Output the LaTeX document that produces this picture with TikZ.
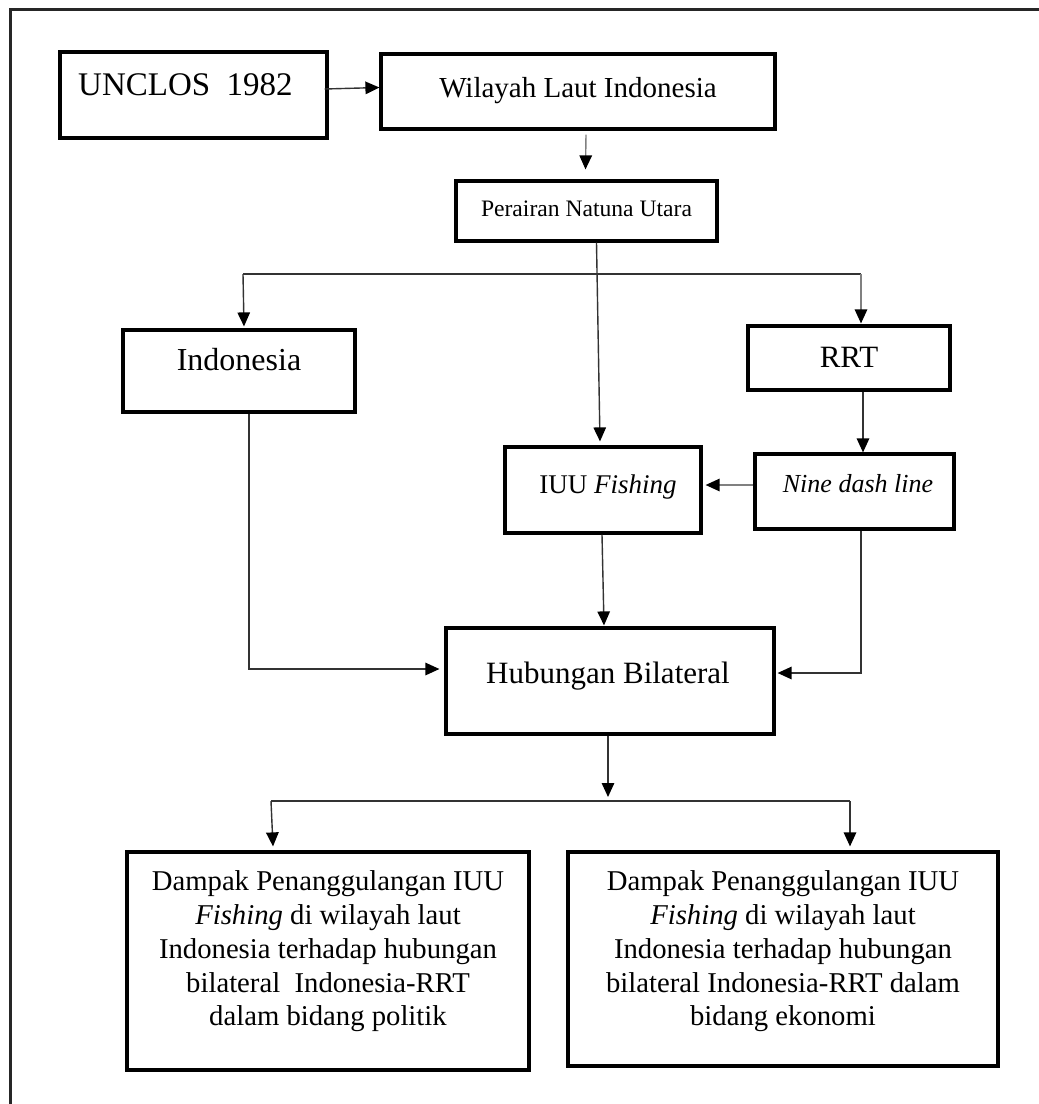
\documentclass[tikz,border=0pt]{standalone}
\usepackage{fontspec}
\setmainfont{Liberation Serif}
\usetikzlibrary{arrows.meta,calc}
\begin{document}
\begin{tikzpicture}[x=1pt,y=-1pt,
  box/.style={draw=black, line width=3.2pt, inner sep=0pt},
  fs/.style={font=\fontsize{#1}{33.75}\selectfont},
  ln/.style={draw=black!80, line width=1.4pt},
  lng/.style={draw=black!50, line width=1.4pt},
  arr/.style={ln, -{Triangle[length=14pt,width=12.5pt,color=black]}},
  arrg/.style={lng, -{Triangle[length=14pt,width=12.5pt,color=black]}}]
\useasboundingbox (0,0) rectangle (1039,1104);
% outer frame (cut at right and bottom)
\draw[line width=3pt, black!85] (10,1104) -- (10,9) -- (1039,9);

\node[box, minimum width=267pt, minimum height=86pt,
  label={[fs=33, xshift=-8pt, yshift=10pt]center:{UNCLOS\ \ 1982}}] (unclos) at (193.5,95) {};
\node[box, minimum width=394pt, minimum height=75pt,
  label={[fs=29, yshift=1pt]center:{Wilayah Laut Indonesia}}] (wil) at (578,91.5) {};
\node[box, minimum width=261pt, minimum height=60pt,
  label={[fs=23.6, yshift=2.5pt]center:{Perairan Natuna Utara}}] (per) at (586.5,211) {};
\node[box, minimum width=232pt, minimum height=82pt,
  label={[fs=32, yshift=11pt]center:{Indonesia}}] (ind) at (239,371) {};
\node[box, minimum width=202pt, minimum height=64pt,
  label={[fs=31, yshift=0.5pt]center:{RRT}}] (rrt) at (849,358) {};
\node[box, minimum width=196pt, minimum height=86pt,
  label={[fs=27, xshift=5pt, yshift=3pt]center:{IUU \textit{Fishing}}}] (iuu) at (603,490) {};
\node[box, minimum width=199pt, minimum height=75pt,
  label={[fs=26, xshift=3.5pt, yshift=7.7pt]center:{\textit{Nine dash line}}}] (ndl) at (854.5,491.5) {};
\node[box, minimum width=328pt, minimum height=106pt,
  label={[fs=31, xshift=-2pt, yshift=5pt]center:{Hubungan Bilateral}}] (hub) at (610,681) {};
\node[box, minimum width=402pt, minimum height=218pt,
  label={[fs=28.7, align=center, yshift=9.5pt]center:{Dampak Penanggulangan IUU\\\textit{Fishing} di wilayah laut\\Indonesia terhadap hubungan\\bilateral\ \ Indonesia-RRT\\dalam bidang politik}}] (p1) at (328,961) {};
\node[box, minimum width=430pt, minimum height=214pt,
  label={[fs=28.7, align=center, yshift=7.5pt]center:{Dampak Penanggulangan IUU\\\textit{Fishing} di wilayah laut\\Indonesia terhadap hubungan\\bilateral Indonesia-RRT dalam\\bidang ekonomi}}] (p2) at (783,959) {};

% connectors
\draw[arr] ($(unclos.east)+(-4,-6)$) -- ($(wil.west)+(0,-4)$);
\draw[arrg] ($(wil.south)+(8,4)$) -- ($(per.north)+(-1,-10)$);
\draw[arr] ($(per.south)+(10,0)$) -- ($(iuu.north)+(-3,-4)$);
\coordinate (sL) at (243,274);
\coordinate (sR) at (861,274);
\draw[ln] (sL) -- (sR);
\draw[arr] (sL) -- ($(ind.north)+(5,-2)$);
\draw[arrg] (sR) -- ($(rrt.north)+(12,-1)$);
\draw[arr] ($(rrt.south)+(14,0)$) -- ($(ndl.north)+(8.5,0)$);
\draw[arrg] ($(ndl.west)+(0,-6.5)$) -- ($(iuu.east)+(3,-5)$);
\draw[arr] ($(iuu.south)+(-1,0)$) -- ($(hub.north)+(-6,-1)$);
\draw[arr] ($(ind.south)+(10,0)$) |- ($(hub.west)+(-5,-12)$);
\draw[arr] ($(ndl.south)+(6.5,0)$) |- ($(hub.east)+(2,-8)$);
\coordinate (sM) at (608,797);
\coordinate (bL) at (271,801);
\coordinate (bR) at (850,801);
\draw[arr] ($(hub.south)+(-2,0)$) -- (sM);
\draw[ln] (bL) -- (bR);
\draw[arr] (bL) -- ($(p1.north)+(-55,-4)$);
\draw[arr] (bR) -- ($(p2.north)+(67,-4)$);
\end{tikzpicture}
\end{document}
